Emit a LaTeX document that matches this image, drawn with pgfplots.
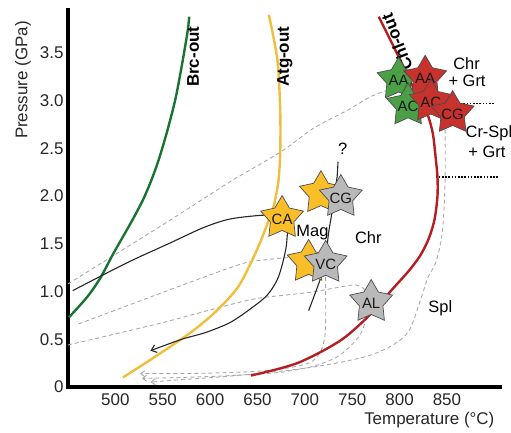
\documentclass[border=0pt]{standalone}
\usepackage{fontspec}
\setmainfont{Liberation Sans}
\usepackage{pgfplots}
\pgfplotsset{compat=1.18}
\usetikzlibrary{arrows.meta}
\definecolor{grnline}{RGB}{25,115,50}
\definecolor{yelline}{RGB}{240,190,60}
\definecolor{redline}{RGB}{180,30,35}
\definecolor{grnstar}{RGB}{75,160,70}
\definecolor{redstar}{RGB}{200,50,45}
\definecolor{yelstar}{RGB}{250,190,40}
\definecolor{graystar}{RGB}{185,185,185}
\definecolor{dashg}{RGB}{170,170,170}
\pgfdeclareplotmark{fstar}{%
  \pgfpathmoveto{\pgfpointpolar{90}{\pgfplotmarksize}}%
  \pgfpathlineto{\pgfpointpolar{126}{0.55\pgfplotmarksize}}%
  \pgfpathlineto{\pgfpointpolar{162}{\pgfplotmarksize}}%
  \pgfpathlineto{\pgfpointpolar{198}{0.55\pgfplotmarksize}}%
  \pgfpathlineto{\pgfpointpolar{234}{\pgfplotmarksize}}%
  \pgfpathlineto{\pgfpointpolar{270}{0.55\pgfplotmarksize}}%
  \pgfpathlineto{\pgfpointpolar{306}{\pgfplotmarksize}}%
  \pgfpathlineto{\pgfpointpolar{342}{0.55\pgfplotmarksize}}%
  \pgfpathlineto{\pgfpointpolar{18}{\pgfplotmarksize}}%
  \pgfpathlineto{\pgfpointpolar{54}{0.55\pgfplotmarksize}}%
  \pgfpathclose
  \pgfusepathqfillstroke
}
\newcommand{\bigf}{\fontsize{17}{20}\selectfont}
\newcommand{\midf}{\fontsize{16.5}{19}\selectfont}
\newcommand{\stf}{\fontsize{15}{17}\selectfont}
\tikzset{
  dsh/.style={dashg, line width=0.9bp, dash pattern=on 4bp off 3bp, smooth},
  dsharr/.style={dsh, -{Straight Barb[length=4bp,width=6bp]}},
}
\pgfplotsset{
  star/.style n args={3}{only marks, mark=fstar, mark size=22.5bp,
     mark options={fill=#1, draw=black!70, line width=0.7bp},
     nodes near coords={#2}, nodes near coords align={center},
     every node near coord/.append style={font=\stf, text=black!90, yshift=#3}},
}
\begin{document}
\begin{tikzpicture}
\useasboundingbox (-68bp,-46bp) rectangle (443bp,387bp);
\begin{axis}[
  at={(0,0)}, anchor=south west,
  width=432bp, height=377bp, scale only axis,
  xmin=450, xmax=906, ymin=0, ymax=3.95,
  axis x line*=bottom, axis y line*=left,
  axis line style={line width=3.5bp, black, line cap=rect},
  xtick={500,550,600,650,700,750,800,850},
  ytick={0,0.5,1,1.5,2,2.5,3,3.5},
  yticklabels={0,0.5,1.0,1.5,2.0,2.5,3.0,3.5},
  major tick length=0pt,
  /pgf/number format/assume math mode=true,
  tick label style={font=\bigf, text=black!85},
  xticklabel style={yshift=-3bp},
  yticklabel style={xshift=-1bp},
  clip=false,
]
% gray dashed paths
\addplot[dsh] coordinates {(450,1.08) (558,1.75) (621,2.15) (674,2.46) (709,2.71) (745,2.90) (769,3.04) (787,3.11) (794,3.14)};
\addplot[dsh] coordinates {(461,0.66) (621,1.25) (656,1.33) (692,1.36) (710,1.34)};
\addplot[dsh] coordinates {(450,0.44) (548,0.67) (616,0.85) (651,0.93) (704,0.99) (733,1.04) (754,1.07) (765,1.01)};
\addplot[dsharr] coordinates {(722,1.15) (722,0.95) (722,0.70) (721,0.52) (716,0.36) (704,0.25) (669,0.18) (616,0.15) (560,0.14) (526,0.14)};
\addplot[dsharr] coordinates {(767,0.80) (761,0.60) (754,0.49) (745,0.40) (733,0.31) (710,0.22) (670,0.15) (600,0.11) (528,0.09)};
\addplot[dsharr] coordinates {(848,2.77) (848,2.14) (845,1.61) (838,1.30) (830,1.15) (822,0.91) (810,0.59) (793,0.44) (768,0.33) (733,0.25) (687,0.18) (616,0.11) (560,0.07) (537,0.05)};
% black dotted
\addplot[black, line width=1.3bp, dash pattern=on 1.6bp off 1.6bp] coordinates {(864,2.97) (900,2.97)};
\addplot[black, line width=1.3bp, dash pattern=on 1.6bp off 1.6bp] coordinates {(838,2.20) (904,2.20)};
% reaction curves
\addplot[grnline, line width=2.4bp, smooth] coordinates {(451,0.73) (470,0.94) (484,1.14) (498,1.40) (518,1.75) (531,2.00) (543,2.30) (553,2.62) (563,3.00) (570,3.36) (576,3.71) (578,3.88)};
\addplot[yelline, line width=2.4bp, smooth] coordinates {(508,0.10) (547,0.35) (582,0.59) (607,0.80) (629,1.04) (643,1.30) (653,1.52) (662,1.75) (667,1.89) (672,2.15) (674,2.45) (674,2.90) (671,3.43) (662,3.90)};
\addplot[redline, line width=2.4bp, smooth] coordinates {(643,0.12) (692,0.25) (738,0.49) (770,0.77) (792,1.02) (810,1.22) (822,1.38) (831,1.56) (837,1.76) (840,2.00) (840,2.20) (838,2.41) (835,2.66) (829,2.87) (819,3.04) (804,3.36) (778,3.88)};
% black P-T paths
\addplot[black!85, line width=1.1bp, smooth] coordinates {(455,1.01) (512,1.30) (558,1.51) (593,1.67) (621,1.76) (656,1.80) (676,1.79)};
\addplot[black!85, line width=1.1bp, smooth, -{Straight Barb[length=5bp,width=8bp]}] coordinates {(682,1.69) (680,1.45) (672,1.15) (660,0.96) (640,0.80) (620,0.67) (595,0.57) (570,0.50) (537,0.38)};
\addplot[black!85, line width=1.1bp, smooth] coordinates {(735,2.36) (734,2.20) (731,2.00) (729,1.85) (725,1.61) (722,1.35) (717,1.15) (704,0.80)};
% stars
\addplot[star={yelstar}{}{0bp}] coordinates {(717,2.03)};
\addplot[star={graystar}{CG}{-1bp}] coordinates {(738,1.99)};
\addplot[star={yelstar}{CA}{-1bp}] coordinates {(676,1.77)};
\addplot[star={yelstar}{}{0bp}] coordinates {(704,1.31)};
\addplot[star={graystar}{VC}{-1bp}] coordinates {(722,1.30)};
\addplot[star={graystar}{AL}{-1bp}] coordinates {(770,0.89)};
\addplot[star={grnstar}{AA}{-1bp}] coordinates {(799,3.22)};
\addplot[star={redstar}{AA}{-1bp}] coordinates {(827,3.24)};
\addplot[star={grnstar}{AC}{-1bp}] coordinates {(809,2.95)};
\addplot[star={redstar}{AC}{-1bp}] coordinates {(833,2.99)};
\addplot[star={redstar}{CG}{-1bp}] coordinates {(856,2.87)};
% curve labels
\node[font=\bigf\bfseries, rotate=90] at (axis cs:582,3.46) {Brc-out};
\node[font=\bigf\bfseries, rotate=90] at (axis cs:679,3.46) {Atg-out};
\node[font=\bigf\bfseries, rotate=111] at (axis cs:797,3.61) {Chl-out};
% field labels
\node[font=\midf, anchor=west] at (axis cs:853,3.39) {Chr};
\node[font=\midf, anchor=west] at (axis cs:848,3.21) {+ Grt};
\node[font=\midf, anchor=west] at (axis cs:866,2.66) {Cr-Spl};
\node[font=\midf, anchor=west] at (axis cs:869,2.46) {+ Grt};
\node[font=\midf] at (axis cs:708,1.62) {Mag};
\node[font=\midf] at (axis cs:767,1.56) {Chr};
\node[font=\midf] at (axis cs:843,0.82) {Spl};
\node[font=\midf] at (axis cs:740,2.50) {?};
% axis titles
\node[font=\bigf, rotate=90, text=black!85] at (rel axis cs:-0.104,0.814) {Pressure (GPa)};
\node[font=\bigf, anchor=east, text=black!85] at ([yshift=-33bp]rel axis cs:0.995,0) {Temperature (°C)};
\end{axis}
\end{tikzpicture}
\end{document}
